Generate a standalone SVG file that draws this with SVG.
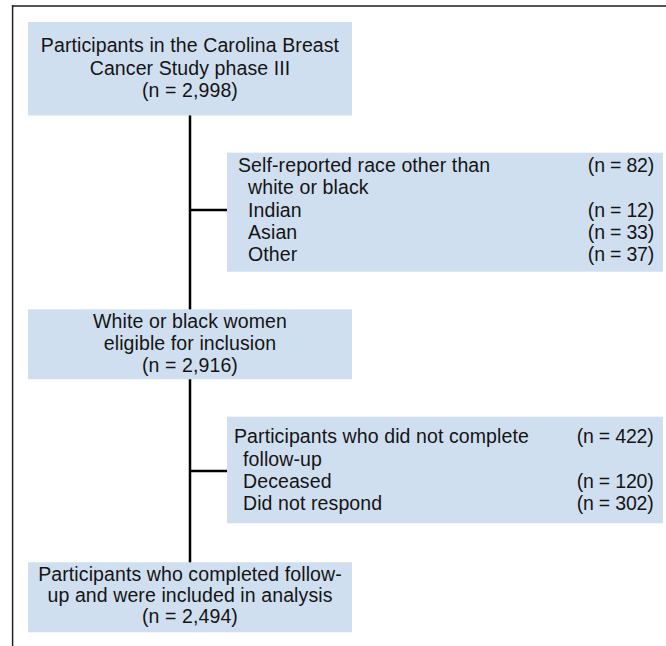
<svg xmlns="http://www.w3.org/2000/svg" width="666" height="646" viewBox="0 0 666 646">
<style>
.box{fill:#d0dff0;}
.t{font-family:"Liberation Sans",Arial,sans-serif;font-size:19.5px;letter-spacing:0.1px;fill:#141414;}
.c{text-anchor:middle;}
.r{text-anchor:end;letter-spacing:-0.2px;}
.conn{stroke:#000;stroke-width:2.5;fill:none;}
</style>
<rect width="666" height="646" fill="#fff"/>
<g id="frame">
<line x1="12" y1="6" x2="666" y2="6" stroke="#555" stroke-width="2"/>
<line x1="12.6" y1="5" x2="12.6" y2="646" stroke="#222" stroke-width="1.5"/>
</g>
<g id="connectors">
<line class="conn" x1="190" y1="115" x2="190" y2="563"/>
<line class="conn" x1="190" y1="210" x2="228" y2="210"/>
<line class="conn" x1="190" y1="471" x2="228" y2="471"/>
</g>
<g id="node-start">
<rect class="box" x="28" y="22" width="324" height="93.5"/>
<text class="t c" x="190" y="52">Participants in the Carolina Breast</text>
<text class="t c" x="190" y="74.5">Cancer Study phase III</text>
<text class="t c" x="190" y="97">(n = 2,998)</text>
</g>
<g id="node-excluded-race">
<rect class="box" x="227" y="152.7" width="436" height="119"/>
<text class="t" x="238" y="172">Self-reported race other than</text>
<text class="t r" x="654" y="172">(n = 82)</text>
<text class="t" x="248" y="194.3">white or black</text>
<text class="t" x="248" y="216.6">Indian</text>
<text class="t r" x="654" y="216.6">(n = 12)</text>
<text class="t" x="248" y="238.9">Asian</text>
<text class="t r" x="654" y="238.9">(n = 33)</text>
<text class="t" x="248" y="261.2">Other</text>
<text class="t r" x="654" y="261.2">(n = 37)</text>
</g>
<g id="node-eligible">
<rect class="box" x="28" y="309.3" width="324" height="70"/>
<text class="t c" x="190" y="327.7">White or black women</text>
<text class="t c" x="190" y="350">eligible for inclusion</text>
<text class="t c" x="190" y="372">(n = 2,916)</text>
</g>
<g id="node-excluded-followup">
<rect class="box" x="227" y="416.7" width="436" height="106.6"/>
<text class="t" x="234" y="443.3">Participants who did not complete</text>
<text class="t r" x="653.5" y="443.3">(n = 422)</text>
<text class="t" x="243" y="465.6">follow-up</text>
<text class="t" x="243" y="487.9">Deceased</text>
<text class="t r" x="653.5" y="487.9">(n = 120)</text>
<text class="t" x="243" y="510.2">Did not respond</text>
<text class="t r" x="653.5" y="510.2">(n = 302)</text>
</g>
<g id="node-analysis">
<rect class="box" x="28" y="562.3" width="324" height="70"/>
<text class="t c" x="190" y="580.5">Participants who completed follow-</text>
<text class="t c" x="190" y="602">up and were included in analysis</text>
<text class="t c" x="190" y="623">(n = 2,494)</text>
</g>
</svg>
